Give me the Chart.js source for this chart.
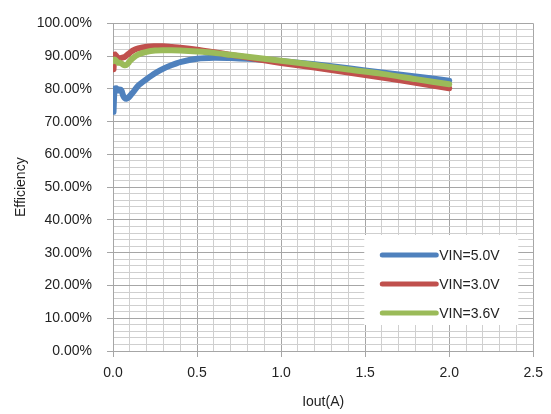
<!DOCTYPE html>
<html>
<head>
<meta charset="utf-8">
<script src="https://cdn.jsdelivr.net/npm/chart.js@4/dist/chart.umd.min.js"></script>
<style>
	html, body { margin: 0; padding: 0; background: #fff; }
	#wrap { position: relative; width: 551px; height: 414px; }
</style>
</head>
<body>
<div id="wrap"><canvas id="chart"></canvas></div>
<script>
// load current (A)
const iout = [0.003, 0.01, 0.02, 0.03, 0.04, 0.05, 0.06, 0.07, 0.08, 0.09, 0.10, 0.12, 0.15, 0.2, 0.25, 0.3, 0.35, 0.4, 0.5, 0.6, 0.7, 0.8, 0.9, 1.0, 1.2, 1.4, 1.6, 1.8, 2.0];

// efficiency (%) per input voltage
const eff50 = [73.0, 80.0, 80.2, 79.5, 79.8, 79.5, 78.0, 77.2, 77.0, 77.3, 77.8, 79.0, 81.0, 83.0, 84.8, 86.2, 87.3, 88.2, 89.2, 89.5, 89.4, 89.2, 88.9, 88.5, 87.5, 86.3, 85.0, 83.8, 82.5];
const eff30 = [86.0, 90.5, 90.0, 89.5, 89.3, 89.5, 89.6, 89.8, 90.2, 90.6, 91.0, 91.8, 92.4, 92.9, 93.0, 93.0, 92.8, 92.6, 92.0, 91.2, 90.4, 89.6, 88.7, 87.9, 86.5, 85.0, 83.5, 81.9, 80.2];
const eff36 = [88.5, 89.0, 88.5, 88.0, 88.0, 87.8, 87.4, 87.2, 87.3, 87.8, 88.5, 89.5, 90.5, 91.3, 91.7, 91.8, 91.8, 91.7, 91.4, 91.0, 90.4, 89.8, 89.2, 88.6, 87.3, 85.9, 84.6, 83.0, 81.4];

const seriesLabels = ['VIN=5.0V', 'VIN=3.0V', 'VIN=3.6V'];
const seriesColors = ['#4F81BD', '#C0504D', '#9BBB59'];

const xTitle = 'Iout(A)';
const yTitle = 'Efficiency';

const FONT = 'Liberation Sans, Arial, sans-serif';
const MAJOR = '#A6A6A6';
const MINOR = '#CFCFCF';

function points(ys) {
	return iout.map((x, i) => ({x, y: ys[i]}));
}

function isMultiple(v, step) {
	let q = v / step;
	return Math.abs(q - Math.round(q)) < 1e-6;
}

// legend drawn inside the plot, like the spreadsheet original
const insideLegend = {
	id: 'insideLegend',
	afterDatasetsDraw(chart) {
		let {ctx, chartArea} = chart;
		let left = chartArea.right - 169;
		let top = chartArea.bottom - 116;
		ctx.save();
		ctx.fillStyle = '#fff';
		ctx.fillRect(left, top, 154, 90);
		ctx.font = '14px ' + FONT;
		ctx.textBaseline = 'middle';
		ctx.textAlign = 'left';
		chart.data.datasets.forEach((ds, i) => {
			let y = top + 20 + i * 29;
			ctx.strokeStyle = ds.borderColor;
			ctx.lineWidth = 5;
			ctx.lineCap = 'round';
			ctx.beginPath();
			ctx.moveTo(left + 18, y);
			ctx.lineTo(left + 72, y);
			ctx.stroke();
			ctx.fillStyle = '#222';
			ctx.fillText(ds.label, left + 75, y + 1);
		});
		ctx.restore();
	},
};

const datasets = [eff50, eff30, eff36].map((ys, i) => ({
	label: seriesLabels[i],
	data: points(ys),
	borderColor: seriesColors[i],
	backgroundColor: seriesColors[i],
	borderWidth: 6,
	borderCapStyle: 'round',
	borderJoinStyle: 'round',
	pointRadius: 0,
	showLine: true,
	tension: 0.3,
	order: 2 - i,
}));

new Chart(document.getElementById('chart'), {
	type: 'scatter',
	data: {datasets},
	plugins: [insideLegend],
	options: {
		responsive: true,
		maintainAspectRatio: false,
		animation: false,
		layout: {
			padding: {top: 13, right: 14, left: 0, bottom: 0},
		},
		plugins: {
			legend: {display: false},
			tooltip: {enabled: false},
		},
		scales: {
			x: {
				type: 'linear',
				min: 0,
				max: 2.5,
				afterFit(scale) { scale.height = 63; },
				ticks: {
					stepSize: 0.1,
					autoSkip: false,
					maxRotation: 0,
					padding: 8,
					color: '#222',
					font: {family: FONT, size: 14},
					callback: v => isMultiple(v, 0.5) ? v.toFixed(1) : '',
				},
				grid: {
					color: c => isMultiple(c.tick.value, 0.5) ? MAJOR : MINOR,
					tickColor: c => isMultiple(c.tick.value, 0.5) ? MAJOR : 'rgba(0,0,0,0)',
					tickLength: 6,
					lineWidth: 1,
				},
				border: {color: MAJOR},
				title: {
					display: true,
					text: xTitle,
					color: '#222',
					font: {family: FONT, size: 14},
					padding: {top: 0, bottom: 3},
				},
			},
			y: {
				type: 'linear',
				min: 0,
				max: 100,
				afterFit(scale) { scale.width = 113; },
				ticks: {
					stepSize: 2,
					autoSkip: false,
					padding: 15,
					color: '#222',
					font: {family: FONT, size: 14},
					callback: v => isMultiple(v, 10) ? v.toFixed(2) + '%' : '',
				},
				grid: {
					color: c => isMultiple(c.tick.value, 10) ? MAJOR : MINOR,
					tickColor: c => isMultiple(c.tick.value, 10) ? MAJOR : 'rgba(0,0,0,0)',
					tickLength: 6,
					lineWidth: 1,
				},
				border: {color: MAJOR},
				title: {
					display: true,
					text: yTitle,
					color: '#222',
					font: {family: FONT, size: 14},
					padding: {top: 13, bottom: 0},
				},
			},
		},
	},
});
</script>
</body>
</html>
